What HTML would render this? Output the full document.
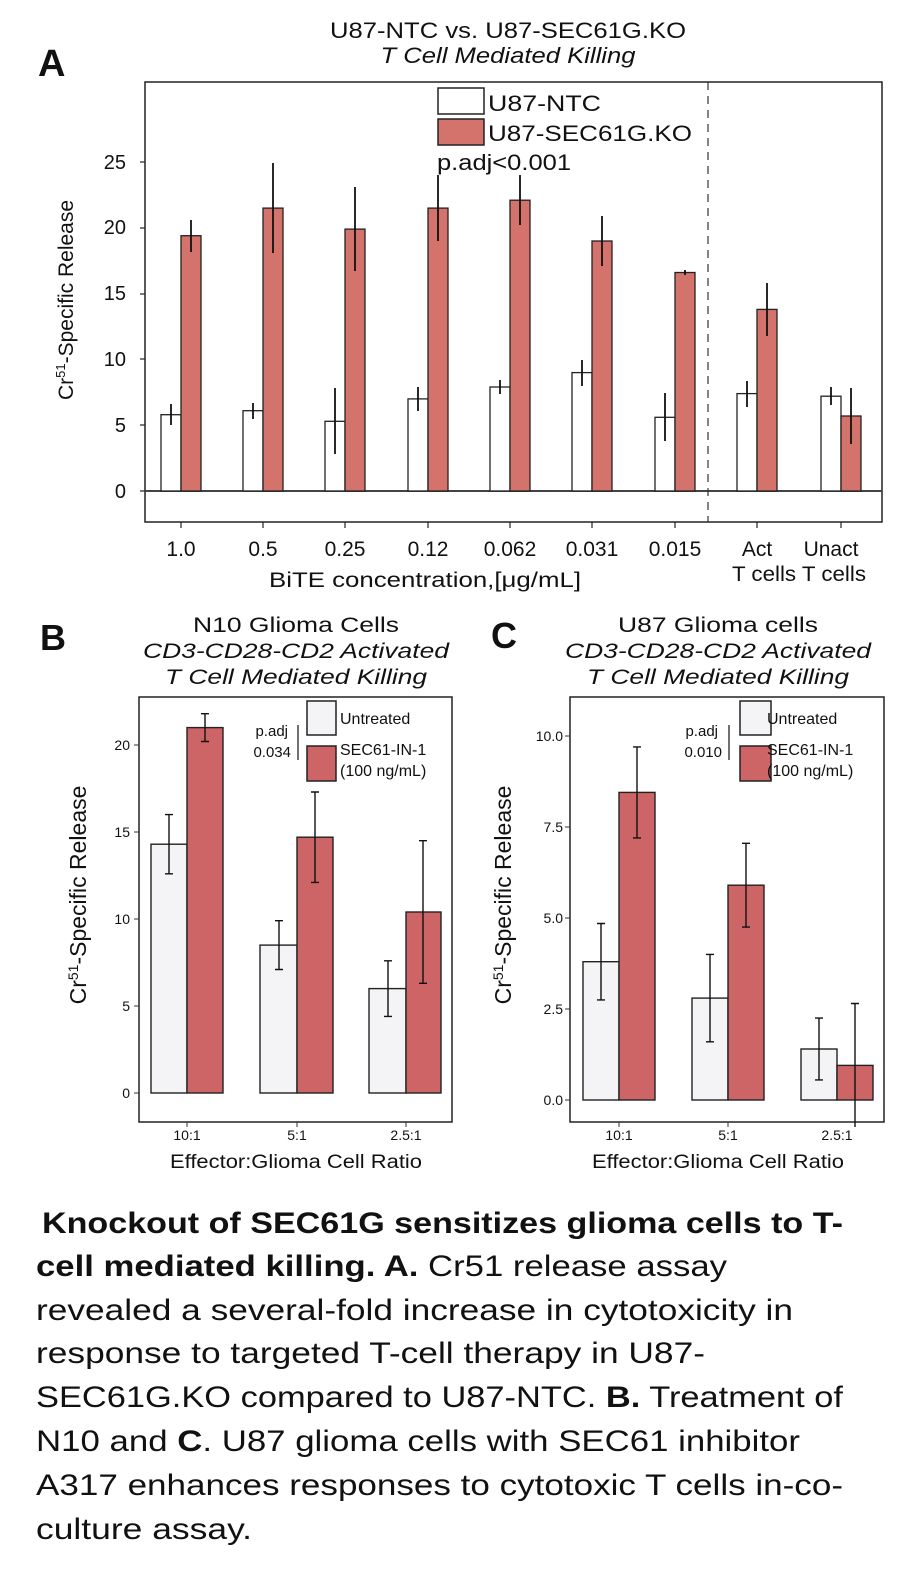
<!DOCTYPE html>
<html><head><meta charset="utf-8"><style>
html,body{margin:0;padding:0;background:#fff}
svg{display:block}
text{font-family:"Liberation Sans",sans-serif;fill:#111}
</style></head><body>
<svg width="904" height="1579" viewBox="0 0 904 1579" xmlns="http://www.w3.org/2000/svg">
<!-- Panel A -->
<text x="38" y="76" font-size="38" font-weight="bold">A</text>
<text x="508" y="38" font-size="22" text-anchor="middle" textLength="356" lengthAdjust="spacingAndGlyphs">U87-NTC vs. U87-SEC61G.KO</text>
<text x="508" y="63" font-size="22" font-style="italic" text-anchor="middle" textLength="255" lengthAdjust="spacingAndGlyphs">T Cell Mediated Killing</text>
<rect x="145" y="82" width="737" height="440" fill="none" stroke="#222" stroke-width="1.5"/>
<line x1="145" y1="491" x2="882" y2="491" stroke="#444" stroke-width="2"/>
<line x1="708" y1="82" x2="708" y2="522" stroke="#333" stroke-width="1.2" stroke-dasharray="8,6"/>
<g font-size="20" text-anchor="end">
<text x="126" y="498">0</text><text x="126" y="432">5</text><text x="126" y="366">10</text><text x="126" y="300">15</text><text x="126" y="234">20</text><text x="126" y="169">25</text>
</g>
<g stroke="#222" stroke-width="1.2">
<line x1="140" y1="491" x2="145" y2="491"/><line x1="140" y1="425" x2="145" y2="425"/><line x1="140" y1="359" x2="145" y2="359"/><line x1="140" y1="294" x2="145" y2="294"/><line x1="140" y1="228" x2="145" y2="228"/><line x1="140" y1="162" x2="145" y2="162"/>
</g>
<text transform="translate(73,300) rotate(-90)" font-size="21" text-anchor="middle">Cr<tspan font-size="13" dy="-8">51</tspan><tspan dy="8">-Specific Release</tspan></text>
<g stroke="#222" stroke-width="1.3">
<rect x="161" y="414.7" width="20" height="76.3" fill="#fff"/><rect x="181" y="235.7" width="20" height="255.3" fill="#d4736c"/>
<rect x="243" y="410.7" width="20" height="80.3" fill="#fff"/><rect x="263" y="208.1" width="20" height="282.9" fill="#d4736c"/>
<rect x="325" y="421.3" width="20" height="69.7" fill="#fff"/><rect x="345" y="229.1" width="20" height="261.9" fill="#d4736c"/>
<rect x="408" y="398.9" width="20" height="92.1" fill="#fff"/><rect x="428" y="208.1" width="20" height="282.9" fill="#d4736c"/>
<rect x="490" y="387" width="20" height="104" fill="#fff"/><rect x="510" y="200.2" width="20" height="290.8" fill="#d4736c"/>
<rect x="572" y="372.6" width="20" height="118.4" fill="#fff"/><rect x="592" y="241" width="20" height="250" fill="#d4736c"/>
<rect x="655" y="417.3" width="20" height="73.7" fill="#fff"/><rect x="675" y="272.5" width="20" height="218.5" fill="#d4736c"/>
<rect x="737" y="393.6" width="20" height="97.4" fill="#fff"/><rect x="757" y="309.4" width="20" height="181.6" fill="#d4736c"/>
<rect x="821" y="396.2" width="20" height="94.8" fill="#fff"/><rect x="841" y="416" width="20" height="75" fill="#d4736c"/>
</g>
<g stroke="#111" stroke-width="1.8">
<line x1="171" y1="404" x2="171" y2="425"/><line x1="191" y1="220" x2="191" y2="252"/>
<line x1="253" y1="403" x2="253" y2="419"/><line x1="273" y1="163" x2="273" y2="253"/>
<line x1="335" y1="388" x2="335" y2="454"/><line x1="355" y1="187" x2="355" y2="271"/>
<line x1="418" y1="387" x2="418" y2="411"/><line x1="438" y1="175" x2="438" y2="241"/>
<line x1="500" y1="380" x2="500" y2="394"/><line x1="520" y1="175" x2="520" y2="225"/>
<line x1="582" y1="360" x2="582" y2="386"/><line x1="602" y1="216" x2="602" y2="266"/>
<line x1="665" y1="393" x2="665" y2="441"/><line x1="685" y1="270" x2="685" y2="275"/>
<line x1="747" y1="381" x2="747" y2="407"/><line x1="767" y1="283" x2="767" y2="336"/>
<line x1="831" y1="387" x2="831" y2="405"/><line x1="851" y1="388" x2="851" y2="444"/>
</g>
<g stroke="#222" stroke-width="1.2">
<line x1="181" y1="522" x2="181" y2="528"/><line x1="263" y1="522" x2="263" y2="528"/><line x1="345" y1="522" x2="345" y2="528"/><line x1="428" y1="522" x2="428" y2="528"/><line x1="510" y1="522" x2="510" y2="528"/><line x1="592" y1="522" x2="592" y2="528"/><line x1="675" y1="522" x2="675" y2="528"/><line x1="757" y1="522" x2="757" y2="528"/><line x1="841" y1="522" x2="841" y2="528"/>
</g>
<g font-size="21" text-anchor="middle">
<text x="181" y="556">1.0</text><text x="263" y="556">0.5</text><text x="345" y="556">0.25</text><text x="428" y="556">0.12</text><text x="510" y="556">0.062</text><text x="592" y="556">0.031</text><text x="675" y="556">0.015</text><text x="757" y="556">Act</text><text x="831" y="556">Unact</text>
<text x="799" y="581" textLength="134" lengthAdjust="spacingAndGlyphs">T cells T cells</text>
<text x="425" y="587" textLength="312" lengthAdjust="spacingAndGlyphs">BiTE concentration,[μg/mL]</text>
</g>
<rect x="438" y="88" width="46" height="26" fill="#fff" stroke="#222" stroke-width="1.5"/>
<rect x="438" y="119" width="46" height="26" fill="#d4736c" stroke="#222" stroke-width="1.5"/>
<text x="488" y="111" font-size="22" textLength="113" lengthAdjust="spacingAndGlyphs">U87-NTC</text>
<text x="488" y="141" font-size="22" textLength="204" lengthAdjust="spacingAndGlyphs">U87-SEC61G.KO</text>
<text x="437" y="170" font-size="22" textLength="134" lengthAdjust="spacingAndGlyphs">p.adj&lt;0.001</text>

<!-- Panel B -->
<text x="40" y="650" font-size="36" font-weight="bold">B</text>
<text x="296" y="632" font-size="21" text-anchor="middle" textLength="206" lengthAdjust="spacingAndGlyphs">N10 Glioma Cells</text>
<text x="296" y="658" font-size="21" font-style="italic" text-anchor="middle" textLength="306" lengthAdjust="spacingAndGlyphs">CD3-CD28-CD2 Activated</text>
<text x="296" y="684" font-size="21" font-style="italic" text-anchor="middle" textLength="262" lengthAdjust="spacingAndGlyphs">T Cell Mediated Killing</text>
<rect x="139" y="697" width="313" height="425" fill="none" stroke="#222" stroke-width="1.5"/>
<g font-size="14" text-anchor="end" fill="#333">
<text x="130" y="1098">0</text><text x="130" y="1011">5</text><text x="130" y="924">10</text><text x="130" y="837">15</text><text x="130" y="750">20</text>
</g>
<g stroke="#333" stroke-width="1"><line x1="134" y1="1093" x2="139" y2="1093"/><line x1="134" y1="1006" x2="139" y2="1006"/><line x1="134" y1="919" x2="139" y2="919"/><line x1="134" y1="832" x2="139" y2="832"/><line x1="134" y1="745" x2="139" y2="745"/></g>
<text transform="translate(86,895) rotate(-90)" font-size="23" text-anchor="middle">Cr<tspan font-size="14" dy="-8">51</tspan><tspan dy="8">-Specific Release</tspan></text>
<g stroke="#222" stroke-width="1.4">
<rect x="151" y="844.2" width="36" height="248.8" fill="#f4f4f6"/><rect x="187" y="727.6" width="36" height="365.4" fill="#cd6466"/>
<rect x="260" y="945.1" width="37" height="147.9" fill="#f4f4f6"/><rect x="297" y="837.2" width="36" height="255.8" fill="#cd6466"/>
<rect x="369" y="988.6" width="37" height="104.4" fill="#f4f4f6"/><rect x="406" y="912" width="35" height="181" fill="#cd6466"/>
</g>
<g stroke="#111" stroke-width="1.4" fill="none">
<path d="M169 814.6V873.8M165 814.6H173M165 873.8H173"/>
<path d="M205 713.7V741.5M201 713.7H209M201 741.5H209"/>
<path d="M279 920.7V969.5M275 920.7H283M275 969.5H283"/>
<path d="M315 792V882.4M311 792H319M311 882.4H319"/>
<path d="M388 960.8V1016.4M384 960.8H392M384 1016.4H392"/>
<path d="M423 840.7V983.3M419 840.7H427M419 983.3H427"/>
</g>
<g stroke="#333" stroke-width="1"><line x1="187" y1="1122" x2="187" y2="1127"/><line x1="297" y1="1122" x2="297" y2="1127"/><line x1="406" y1="1122" x2="406" y2="1127"/></g>
<g font-size="14" text-anchor="middle" fill="#333"><text x="187" y="1140">10:1</text><text x="297" y="1140">5:1</text><text x="406" y="1140">2.5:1</text></g>
<text x="296" y="1168" font-size="19" text-anchor="middle" textLength="252" lengthAdjust="spacingAndGlyphs">Effector:Glioma Cell Ratio</text>
<rect x="307" y="701" width="29" height="34" fill="#f4f4f6" stroke="#222" stroke-width="1.5"/>
<rect x="307" y="746" width="29" height="35" fill="#cd6466" stroke="#222" stroke-width="1.5"/>
<text x="340" y="724" font-size="16">Untreated</text>
<text x="340" y="755" font-size="16">SEC61-IN-1</text>
<text x="340" y="776" font-size="16">(100 ng/mL)</text>
<text x="288" y="736" font-size="15" text-anchor="end">p.adj</text>
<text x="291" y="757" font-size="15" text-anchor="end">0.034</text>
<line x1="298" y1="725" x2="298" y2="760" stroke="#222" stroke-width="1.3"/>

<!-- Panel C -->
<text x="491" y="648" font-size="36" font-weight="bold">C</text>
<text x="718" y="632" font-size="21" text-anchor="middle" textLength="200" lengthAdjust="spacingAndGlyphs">U87 Glioma cells</text>
<text x="718" y="658" font-size="21" font-style="italic" text-anchor="middle" textLength="306" lengthAdjust="spacingAndGlyphs">CD3-CD28-CD2 Activated</text>
<text x="718" y="684" font-size="21" font-style="italic" text-anchor="middle" textLength="262" lengthAdjust="spacingAndGlyphs">T Cell Mediated Killing</text>
<rect x="570" y="697" width="314" height="425" fill="none" stroke="#222" stroke-width="1.5"/>
<g font-size="14" text-anchor="end" fill="#333">
<text x="563" y="1105">0.0</text><text x="563" y="1014">2.5</text><text x="563" y="923">5.0</text><text x="563" y="832">7.5</text><text x="563" y="741">10.0</text>
</g>
<g stroke="#333" stroke-width="1"><line x1="565" y1="1100" x2="570" y2="1100"/><line x1="565" y1="1009" x2="570" y2="1009"/><line x1="565" y1="918" x2="570" y2="918"/><line x1="565" y1="827" x2="570" y2="827"/><line x1="565" y1="736" x2="570" y2="736"/></g>
<text transform="translate(511,895) rotate(-90)" font-size="23" text-anchor="middle">Cr<tspan font-size="14" dy="-8">51</tspan><tspan dy="8">-Specific Release</tspan></text>
<g stroke="#222" stroke-width="1.4">
<rect x="583" y="961.7" width="36" height="138.3" fill="#f4f4f6"/><rect x="619" y="792.4" width="36" height="307.6" fill="#cd6466"/>
<rect x="692" y="998.1" width="36" height="101.9" fill="#f4f4f6"/><rect x="728" y="885.2" width="36" height="214.8" fill="#cd6466"/>
<rect x="801" y="1049" width="36" height="51" fill="#f4f4f6"/><rect x="837" y="1065.4" width="36" height="34.6" fill="#cd6466"/>
</g>
<g stroke="#111" stroke-width="1.4" fill="none">
<path d="M601 923.5V999.9M597 923.5H605M597 999.9H605"/>
<path d="M637 746.9V837.9M633 746.9H641M633 837.9H641"/>
<path d="M710 954.4V1041.8M706 954.4H714M706 1041.8H714"/>
<path d="M746 843.3V927.1M742 843.3H750M742 927.1H750"/>
<path d="M819 1018.1V1079.9M815 1018.1H823M815 1079.9H823"/>
<path d="M855 1003.5V1127M851 1003.5H859"/>
</g>
<g stroke="#333" stroke-width="1"><line x1="619" y1="1122" x2="619" y2="1127"/><line x1="728" y1="1122" x2="728" y2="1127"/></g>
<g font-size="14" text-anchor="middle" fill="#333"><text x="619" y="1140">10:1</text><text x="728" y="1140">5:1</text><text x="837" y="1140">2.5:1</text></g>
<text x="718" y="1168" font-size="19" text-anchor="middle" textLength="252" lengthAdjust="spacingAndGlyphs">Effector:Glioma Cell Ratio</text>
<rect x="740" y="701" width="31" height="34" fill="#f4f4f6" stroke="#222" stroke-width="1.5"/>
<rect x="740" y="746" width="31" height="35" fill="#cd6466" stroke="#222" stroke-width="1.5"/>
<text x="767" y="724" font-size="16">Untreated</text>
<text x="767" y="755" font-size="16">SEC61-IN-1</text>
<text x="767" y="776" font-size="16">(100 ng/mL)</text>
<text x="718" y="736" font-size="15" text-anchor="end">p.adj</text>
<text x="722" y="757" font-size="15" text-anchor="end">0.010</text>
<line x1="729" y1="725" x2="729" y2="760" stroke="#222" stroke-width="1.3"/>

<!-- Caption -->
<g font-size="30">
<text x="42" y="1233" font-weight="bold" textLength="801" lengthAdjust="spacingAndGlyphs">Knockout of SEC61G sensitizes glioma cells to T-</text>
<text x="36" y="1276" textLength="691" lengthAdjust="spacingAndGlyphs"><tspan font-weight="bold">cell mediated killing. A.</tspan> Cr51 release assay</text>
<text x="36" y="1320" textLength="757" lengthAdjust="spacingAndGlyphs">revealed a several-fold increase in cytotoxicity in</text>
<text x="36" y="1363" textLength="669" lengthAdjust="spacingAndGlyphs">response to targeted T-cell therapy in U87-</text>
<text x="36" y="1407" textLength="807" lengthAdjust="spacingAndGlyphs">SEC61G.KO compared to U87-NTC. <tspan font-weight="bold">B.</tspan> Treatment of</text>
<text x="36" y="1451" textLength="764" lengthAdjust="spacingAndGlyphs">N10 and <tspan font-weight="bold">C</tspan>. U87 glioma cells with SEC61 inhibitor</text>
<text x="36" y="1495" textLength="807" lengthAdjust="spacingAndGlyphs">A317 enhances responses to cytotoxic T cells in-co-</text>
<text x="36" y="1539" textLength="216" lengthAdjust="spacingAndGlyphs">culture assay.</text>
</g>
</svg>
</body></html>
